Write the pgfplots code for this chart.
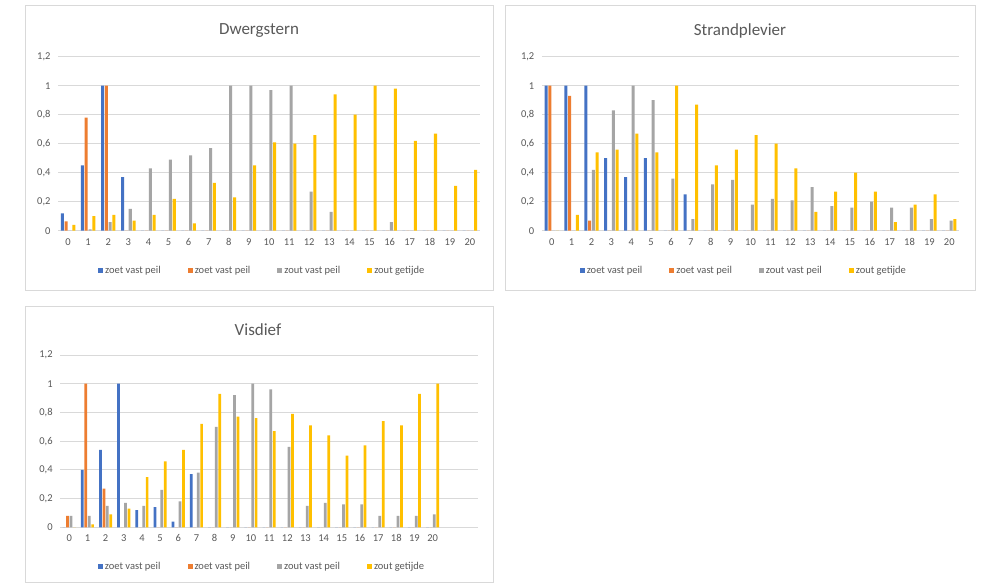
\documentclass[border=0pt]{standalone}
\usepackage{pgfplots}
\pgfplotsset{compat=1.18}
\usepackage{pgfplotstable}
\usepackage{fontspec}
\setmainfont{Carlito}
\definecolor{cblue}{HTML}{4472C4}
\definecolor{corange}{HTML}{ED7D31}
\definecolor{cgray}{HTML}{A5A5A5}
\definecolor{cyellow}{HTML}{FFC000}
\definecolor{txtgray}{HTML}{595959}
\definecolor{gridgray}{HTML}{D9D9D9}
\definecolor{framegray}{HTML}{D9D9D9}

\pgfplotstableread{
x b o g y
0 0.12 0.065 0 0.04
1 0.45 0.78 0.01 0.10
2 1 1 0.06 0.11
3 0.37 0 0.15 0.07
4 0 0 0.43 0.11
5 0 0 0.49 0.22
6 0 0 0.52 0.05
7 0 0 0.57 0.33
8 0 0 1.0 0.23
9 0 0 1.0 0.45
10 0 0 0.97 0.61
11 0 0 1.0 0.60
12 0 0 0.27 0.66
13 0 0 0.13 0.94
14 0 0 0 0.80
15 0 0 0 1.0
16 0 0 0.06 0.98
17 0 0 0 0.62
18 0 0 0 0.67
19 0 0 0 0.31
20 0 0 0 0.42
}\dwergstern

\pgfplotstableread{
x b o g y
0 1 1 0 0
1 1 0.93 0 0.11
2 1 0.07 0.42 0.54
3 0.50 0 0.83 0.56
4 0.37 0 1.0 0.67
5 0.50 0 0.90 0.54
6 0 0 0.36 1.0
7 0.25 0 0.08 0.87
8 0 0 0.32 0.45
9 0 0 0.35 0.56
10 0 0 0.18 0.66
11 0 0 0.22 0.60
12 0 0 0.21 0.43
13 0 0 0.30 0.13
14 0 0 0.17 0.27
15 0 0 0.16 0.40
16 0 0 0.20 0.27
17 0 0 0.16 0.06
18 0 0 0.16 0.18
19 0 0 0.08 0.25
20 0 0 0.07 0.08
}\strandplevier

\pgfplotstableread{
x b o g y
0 0 0.08 0.08 0
1 0.40 1.0 0.08 0.02
2 0.54 0.27 0.15 0.09
3 1.0 0 0.17 0.13
4 0.12 0 0.15 0.35
5 0.14 0 0.26 0.46
6 0.04 0 0.18 0.54
7 0.37 0 0.38 0.72
8 0 0 0.70 0.93
9 0 0 0.92 0.77
10 0 0 1.0 0.76
11 0 0 0.96 0.67
12 0 0 0.56 0.79
13 0 0 0.15 0.71
14 0 0 0.17 0.64
15 0 0 0.16 0.50
16 0 0 0.16 0.57
17 0 0 0.08 0.74
18 0 0 0.08 0.71
19 0 0 0.08 0.93
20 0 0 0.09 1.0
}\visdief

\pgfplotsset{
  panel/.style={
    scale only axis,
    ymin=0, ymax=1.2,
    ytick={0,0.2,0.4,0.6,0.8,1,1.2},
    xtick={0,1,...,20},
    /pgf/number format/.cd, use comma, fixed, precision=1,
    /pgf/number format/assume math mode=true,
    /pgfplots/.cd,
    ymajorgrids,
    grid style={draw=gridgray, line width=0.8pt},
    axis line style={draw=none},
    major tick length=0pt,
    tick style={draw=none},
    ticklabel style={font=\fontsize{10.5}{12}\selectfont, text=txtgray},
    xticklabel style={yshift=-4pt, text height=7pt, text depth=0pt},
    yticklabel style={xshift=-4pt},
    ybar, bar width=0.15,
    legend columns=4,
    legend style={draw=none, fill=none, font=\fontsize{10.5}{12}\selectfont, text=txtgray,
      at={(0.484,-0.23)}, anchor=center,
      /tikz/every even column/.append style={column sep=25pt}},
    legend image code/.code={\fill[##1] (0pt,-2.5pt) rectangle (5pt,2.5pt);},
  },
}

\begin{document}
\begin{tikzpicture}
\path[fill=white, use as bounding box] (0pt,0pt) rectangle (985pt,-584pt);
\draw[framegray, line width=0.8pt] (25pt,-5pt) rectangle (493pt,-290pt);
\draw[framegray, line width=0.8pt] (505pt,-5pt) rectangle (975pt,-290pt);
\draw[framegray, line width=0.8pt] (25pt,-306pt) rectangle (493pt,-582pt);

\node[text=txtgray, font=\fontsize{17}{20}\selectfont] at (259pt,-31pt) {Dwergstern};
\node[text=txtgray, font=\fontsize{17}{20}\selectfont] at (740pt,-31pt) {Strandplevier};
\node[text=txtgray, font=\fontsize{17}{20}\selectfont] at (258pt,-330pt) {Visdief};

\begin{axis}[panel, at={(58pt,-230.7pt)}, anchor=south west,
  width=422pt, height=174pt, xmin=-0.5, xmax=20.5]
\addplot[fill=cblue, draw=none, bar shift=-0.285] table[x=x,y=b] {\dwergstern};
\addplot[fill=corange, draw=none, bar shift=-0.095] table[x=x,y=o] {\dwergstern};
\addplot[fill=cgray, draw=none, bar shift=0.095] table[x=x,y=g] {\dwergstern};
\addplot[fill=cyellow, draw=none, bar shift=0.285] table[x=x,y=y] {\dwergstern};
\legend{zoet vast peil, zoet vast peil, zout vast peil, zout getijde}
\end{axis}

\begin{axis}[panel, at={(541.8pt,-230.7pt)}, anchor=south west,
  width=417.4pt, height=174pt, xmin=-0.5, xmax=20.5]
\addplot[fill=cblue, draw=none, bar shift=-0.285] table[x=x,y=b] {\strandplevier};
\addplot[fill=corange, draw=none, bar shift=-0.095] table[x=x,y=o] {\strandplevier};
\addplot[fill=cgray, draw=none, bar shift=0.095] table[x=x,y=g] {\strandplevier};
\addplot[fill=cyellow, draw=none, bar shift=0.285] table[x=x,y=y] {\strandplevier};
\legend{zoet vast peil, zoet vast peil, zout vast peil, zout getijde}
\end{axis}

\begin{axis}[panel, at={(60.2pt,-527.3pt)}, anchor=south west,
  width=417.8pt, height=172.3pt, xmin=-0.5, xmax=22.5,
  legend style={at={(0.483,-0.23)}}]
\addplot[fill=cblue, draw=none, bar shift=-0.285] table[x=x,y=b] {\visdief};
\addplot[fill=corange, draw=none, bar shift=-0.095] table[x=x,y=o] {\visdief};
\addplot[fill=cgray, draw=none, bar shift=0.095] table[x=x,y=g] {\visdief};
\addplot[fill=cyellow, draw=none, bar shift=0.285] table[x=x,y=y] {\visdief};
\legend{zoet vast peil, zoet vast peil, zout vast peil, zout getijde}
\end{axis}
\end{tikzpicture}
\end{document}
